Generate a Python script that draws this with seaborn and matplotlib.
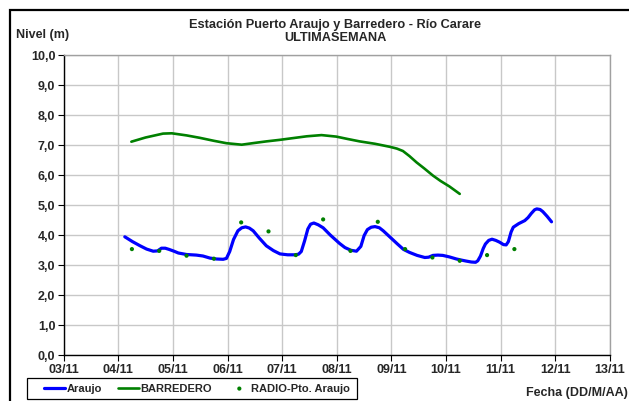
import matplotlib
matplotlib.use("Agg")
import matplotlib.pyplot as plt
import seaborn as sns
import pandas as pd
from matplotlib.patches import Rectangle

# Days counted from 03/11 (0.0) to 13/11 (10.0)
araujo_x = [1.12, 1.26, 1.40, 1.52, 1.64, 1.72, 1.79, 1.86, 1.93, 2.02, 2.10, 2.25, 2.43, 2.55, 2.68,
            2.80, 2.92, 2.98, 3.04, 3.11, 3.19, 3.26, 3.33, 3.40, 3.47, 3.58, 3.71, 3.84, 3.96, 4.10,
            4.23, 4.30, 4.35, 4.41, 4.47, 4.52, 4.58, 4.66, 4.75, 4.88, 5.05, 5.15, 5.26, 5.36, 5.44,
            5.50, 5.56, 5.63, 5.70, 5.78, 5.85, 5.98, 6.11, 6.22, 6.33, 6.47, 6.61, 6.68, 6.76, 6.85,
            6.94, 7.06, 7.19, 7.29, 7.37, 7.46, 7.54, 7.58, 7.63, 7.68, 7.72, 7.78, 7.84, 7.91, 7.98,
            8.05, 8.10, 8.14, 8.19, 8.23, 8.33, 8.44, 8.50, 8.56, 8.62, 8.66, 8.72, 8.77, 8.85, 8.93]
araujo_y = [3.94, 3.78, 3.64, 3.53, 3.46, 3.47, 3.56, 3.56, 3.52, 3.46, 3.40, 3.35, 3.33, 3.30, 3.23,
            3.20, 3.19, 3.22, 3.45, 3.85, 4.14, 4.24, 4.27, 4.23, 4.14, 3.90, 3.64, 3.48, 3.37, 3.34,
            3.34, 3.36, 3.45, 3.80, 4.20, 4.36, 4.40, 4.34, 4.24, 4.00, 3.72, 3.58, 3.49, 3.46, 3.62,
            3.98, 4.18, 4.26, 4.28, 4.24, 4.14, 3.92, 3.70, 3.52, 3.42, 3.32, 3.25, 3.26, 3.32, 3.33,
            3.32, 3.27, 3.20, 3.16, 3.13, 3.10, 3.09, 3.14, 3.30, 3.55, 3.70, 3.82, 3.86, 3.82, 3.76,
            3.68, 3.67, 3.78, 4.10, 4.26, 4.38, 4.48, 4.58, 4.72, 4.84, 4.87, 4.85, 4.78, 4.62, 4.44]

barredero_x = [1.24, 1.50, 1.82, 1.98, 2.25, 2.49, 2.75, 2.98, 3.26, 3.50, 3.71, 3.95, 4.20, 4.45, 4.72,
               4.99, 5.20, 5.42, 5.70, 5.97, 6.10, 6.21, 6.33, 6.46, 6.60, 6.76, 6.90, 7.06, 7.25]
barredero_y = [7.11, 7.25, 7.38, 7.39, 7.32, 7.24, 7.14, 7.06, 7.01, 7.07, 7.12, 7.17, 7.23, 7.29, 7.33,
               7.28, 7.20, 7.12, 7.04, 6.94, 6.88, 6.80, 6.63, 6.42, 6.22, 5.98, 5.80, 5.62, 5.37]

radio_x = [1.25, 1.75, 2.25, 2.75, 3.25, 3.75, 4.25, 4.75, 5.25, 5.75, 6.25, 6.75, 7.25, 7.75, 8.25]
radio_y = [3.53, 3.47, 3.31, 3.21, 4.42, 4.12, 3.33, 4.52, 3.47, 4.44, 3.53, 3.25, 3.14, 3.33, 3.53]

tick_labels = ["03/11", "04/11", "05/11", "06/11", "07/11", "08/11", "09/11", "10/11", "11/11", "12/11", "13/11"]
y_ticks = [0, 1, 2, 3, 4, 5, 6, 7, 8, 9, 10]

sns.set_theme(style="white")
plt.rcParams["font.family"] = ["Liberation Sans", "DejaVu Sans"]

W, H = 629, 402
fig = plt.figure(figsize=(W / 100, H / 100), dpi=100)
fig.patch.set_facecolor("white")

# outer chart frame
fig.patches.append(Rectangle((9.5 / W, -0.05), 1.1, 1 - 11 / H + 0.05, transform=fig.transFigure,
                             fill=False, edgecolor="black", linewidth=1.6, zorder=0))
# legend frame
fig.patches.append(Rectangle((27 / W, 1 - 400 / H), 330 / W, 21 / H, transform=fig.transFigure,
                             fill=False, edgecolor="black", linewidth=0.9, zorder=1))

left, right, top, bottom = 63.6, 610, 56, 356
ax = fig.add_axes([left / W, 1 - bottom / H, (right - left) / W, (bottom - top) / H])

df_a = pd.DataFrame({"x": araujo_x, "y": araujo_y})
df_b = pd.DataFrame({"x": barredero_x, "y": barredero_y})
df_r = pd.DataFrame({"x": radio_x, "y": radio_y})

sns.lineplot(data=df_a, x="x", y="y", ax=ax, color="#0000ff", linewidth=2.3, sort=False,
             label="Araujo", zorder=4)
sns.lineplot(data=df_b, x="x", y="y", ax=ax, color="#008000", linewidth=1.9, sort=False,
             label="BARREDERO", zorder=3)
sns.scatterplot(data=df_r, x="x", y="y", ax=ax, color="#008000", s=9, edgecolor="none",
                label="RADIO-Pto. Araujo", zorder=5)

ax.set_xlim(0, 10)
ax.set_ylim(0, 10)
ax.set_xticks(range(11))
ax.set_xticklabels(tick_labels)
ax.set_yticks(y_ticks)
ax.set_yticklabels([f"{v:.1f}".replace(".", ",") for v in y_ticks])
ax.set_xlabel("")
ax.set_ylabel("")
ax.grid(True, color="#c8c8c8", linewidth=1.0)
ax.set_axisbelow(True)
for lab in ax.get_xticklabels() + ax.get_yticklabels():
    lab.set_fontweight("bold")
    lab.set_fontsize(9)
ax.tick_params(axis="both", which="both", direction="out", length=4, width=0.8, color="black",
               left=True, bottom=True, pad=2)
ax.spines["left"].set_color("black")
ax.spines["bottom"].set_color("black")
ax.spines["top"].set_color("#a0a0a0")
ax.spines["right"].set_color("#a0a0a0")
for s in ax.spines.values():
    s.set_linewidth(1.0)

ax.get_legend().remove()
handles, labels = ax.get_legend_handles_labels()
leg = fig.legend(handles, labels, ncol=3, loc="center left",
                 bbox_to_anchor=(44 / W, 1 - 389.5 / H), borderaxespad=0, borderpad=0,
                 frameon=False, prop={"size": 8, "weight": "bold"},
                 handlelength=1.9, handletextpad=0.1, columnspacing=1.5, markerscale=1.0)

fig.text(335 / W, 1 - 25 / H, "Estación Puerto Araujo y Barredero - Río Carare",
         ha="center", va="center", fontsize=9.2, fontweight="bold")
fig.text(335 / W, 1 - 38 / H, "ULTIMASEMANA", ha="center", va="center", fontsize=9.2, fontweight="bold")
fig.text(16 / W, 1 - 35 / H, "Nivel (m)", ha="left", va="center", fontsize=9, fontweight="bold")
fig.text(526 / W, 1 - 393 / H, "Fecha (DD/M/AA)", ha="left", va="center", fontsize=9, fontweight="bold")

fig.savefig("out.png", dpi=100, facecolor="white")
